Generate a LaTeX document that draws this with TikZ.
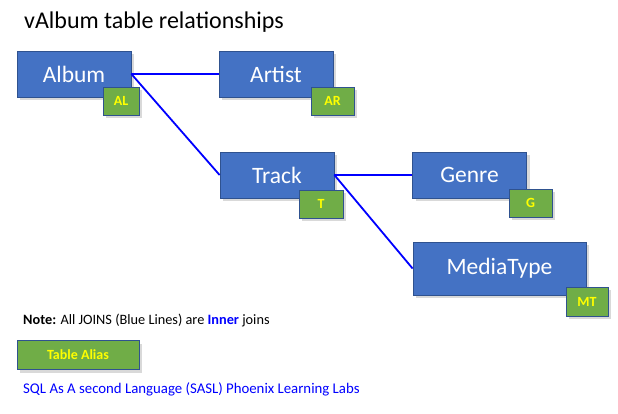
\documentclass[tikz,border=0pt]{standalone}
\usepackage{fontspec}
\setmainfont{Carlito}
\usepackage{tikz}
\usetikzlibrary{shadows, positioning}
\definecolor{tblblue}{HTML}{4472C4}
\definecolor{tblborder}{HTML}{2F528F}
\definecolor{aliasgreen}{HTML}{70AD47}
\definecolor{aliasyellow}{HTML}{FFFF00}
\definecolor{joinblue}{HTML}{0000FF}

\begin{document}
\begin{tikzpicture}[x=1pt, y=-1pt,
  tablebox/.style={draw=tblborder, fill=tblblue, line width=0.8pt, minimum width=114pt, minimum height=46pt, inner sep=0pt, text=white, font=\fontsize{23.5}{28}\selectfont, drop shadow={opacity=0.3, shadow xshift=3pt, shadow yshift=-3pt}},
  aliasbox/.style={draw=tblborder, fill=aliasgreen, line width=0.8pt, minimum width=43pt, minimum height=28pt, inner sep=0pt, text=aliasyellow, font=\fontsize{14}{16}\selectfont\bfseries, drop shadow={opacity=0.3, shadow xshift=3pt, shadow yshift=-3pt}},
  joinline/.style={joinblue, line width=1.8pt},
  plain/.style={font=\fontsize{14.3}{17}\selectfont, inner sep=0pt, anchor=base west},
]
\useasboundingbox (0,0) rectangle (618,413);

% Title
\node[plain, font=\fontsize{24}{28}\selectfont] (title) at (24,28) {vAlbum table relationships};

% Tables
\node[tablebox] (album) at (74,74) {Album};
\node[tablebox] (artist) at (276,74) {Artist};
\node[tablebox] (track) at (277,175) {Track};
\node[tablebox] (genre) at (469.5,175) {Genre};
\node[tablebox, minimum width=173pt, minimum height=53pt] (mediatype) at (499.5,268.5) {MediaType};

% Joins
\draw[joinline] (album.east) -- (artist.west);
\draw[joinline] (album.east) -- (track.west);
\draw[joinline] (track.east) -- (genre.west);
\draw[joinline] (track.east) -- (mediatype.west);

% Table aliases
\node[aliasbox, minimum width=36pt] (al) at (121,101) {AL};
\node[aliasbox] (ar) at (332.5,101) {AR};
\node[aliasbox, minimum width=44pt] (t) at (321,204) {T};
\node[aliasbox] (g) at (530.5,203) {G};
\node[aliasbox, minimum width=42pt, minimum height=29pt] (mt) at (587,301.5) {MT};

% Legend
\node[plain] (note) at (23,324.5) {\textbf{Note:} All JOINS (Blue Lines) are \textcolor{joinblue}{\textbf{Inner}} joins};
\node[aliasbox, minimum width=122pt, minimum height=29pt] (legend) at (78,355) {Table Alias};
\node[plain, text=joinblue, font=\fontsize{14.8}{17}\selectfont] (sasl) at (23,393) {SQL As A second Language (SASL) Phoenix Learning Labs};

\end{tikzpicture}
\end{document}
